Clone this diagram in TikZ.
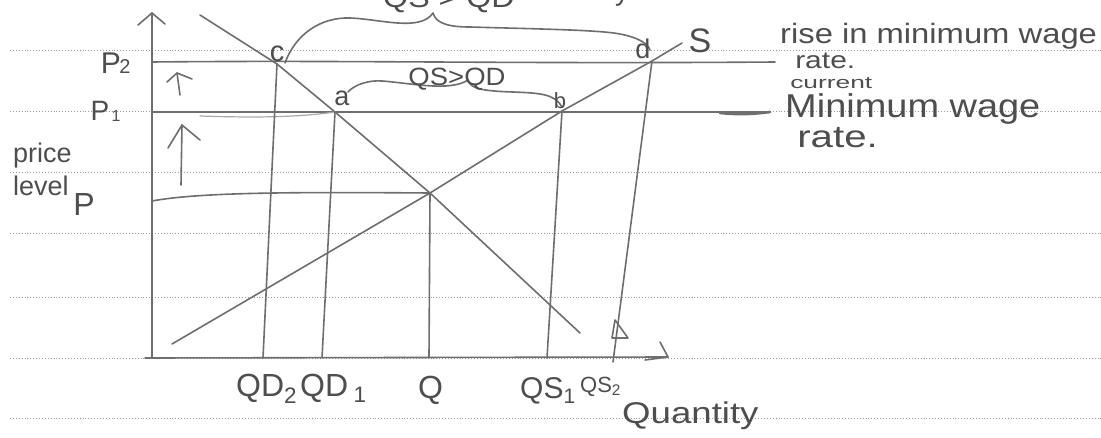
\documentclass[tikz,border=0pt]{standalone}
\usepackage{fontspec}
\setmainfont{Liberation Sans}
\definecolor{inkc}{HTML}{6E6E6E}
\definecolor{textc}{HTML}{4E4E4E}
\definecolor{rulec}{HTML}{9A9A9A}
\begin{document}
\begin{tikzpicture}[x=1pt,y=-1pt,
  ink/.style={draw=inkc, line width=1.6pt, line cap=round, line join=round},
  faint/.style={draw=inkc!60, line width=1.2pt, line cap=round},
  ruled/.style={draw=rulec, dotted, line width=0.9pt},
  hw/.style={text=textc, inner sep=0pt, font=\fontsize{#1}{#1}\selectfont},
  wide/.style={xscale=#1, transform shape}]
\useasboundingbox[fill=white] (0,0) rectangle (1101,437);
% ruled paper
\foreach \yy in {50,111,172,233,297,358,418}
  \draw[ruled] (10,\yy) -- (1101,\yy);
% key points
\coordinate (O) at (152,358);
\coordinate (Ytop) at (152,13);
\coordinate (yh1) at (138,25);
\coordinate (yh2) at (165,24);
\coordinate (Xst) at (145,358);
\coordinate (Xend) at (668,357);
\coordinate (xh1) at (660,342);
\coordinate (xh2) at (645,360);
\coordinate (c) at (277,64);
\coordinate (a) at (335,112);
\coordinate (E) at (430,193);
\coordinate (b) at (562,111);
\coordinate (d) at (652,61);
\coordinate (D0) at (200,15);
\coordinate (D1) at (580,333);
\coordinate (S0) at (172,344);
\coordinate (S1) at (682,43);
\coordinate (P2a) at (152,62);
\coordinate (P2b) at (775,62);
\coordinate (P1a) at (152,112);
\coordinate (P1b) at (770,112);
\coordinate (Pa) at (152,201);
\coordinate (qd2) at (263,358);
\coordinate (qd1) at (322,358);
\coordinate (q) at (429,357);
\coordinate (qs1) at (547,358);
\coordinate (qs2) at (613,362);
% axes
\draw[ink] (O) -- (Ytop);
\draw[ink] (yh1) -- (Ytop) -- (yh2);
\draw[ink] (Xst) -- (Xend);
\draw[ink] (xh1) -- (Xend) -- (xh2);
% demand and supply
\draw[ink] (D0) -- (c) -- (a) -- (E) -- (D1);
\draw[ink] (S0) -- (E) -- (b) -- (d) -- (S1);
% price lines
\draw[ink] (P2a) .. controls (350,60) and (500,64) .. (P2b);
\draw[ink] (P1a) -- (P1b);
\draw[faint] (200,116) .. controls (260,118) and (300,117) .. (a);
\draw[ink, line width=2.6pt] (720,113) .. controls (740,115) and (755,114) .. (P1b);
\draw[ink] (Pa) .. controls (200,192) and (300,192) .. (E);
% verticals
\draw[ink] (c) -- (qd2);
\draw[ink] (a) -- (qd1);
\draw[ink] (E) -- (q);
\draw[ink] (b) -- (qs1);
\draw[ink] (d) -- (qs2);
\draw[ink] (615,320) -- (628,338) -- (612,338) -- cycle;
% up arrows
\draw[ink] (180,95) -- (177,73);
\draw[ink] (167,82) -- (177,73) -- (192,79);
\draw[ink] (181,185) -- (182,125);
\draw[ink] (168,148) -- (182,125) -- (200,140);
% braces
\draw[ink] (285,63) .. controls (295,35) and (320,17) .. (350,18)
  .. controls (380,19) and (420,32) .. (433,13)
  .. controls (436,24) and (450,27) .. (470,27)
  .. controls (540,29) and (600,30) .. (620,34)
  .. controls (640,38) and (648,44) .. (650,50);
\draw[ink] (348,92) .. controls (355,84) and (370,80) .. (382,81)
  .. controls (410,83) and (450,92) .. (468,80)
  .. controls (470,88) and (480,91) .. (513,92)
  .. controls (540,93) and (555,94) .. (562,107);
% point letters
\node[hw=29, anchor=base] (lc) at (277,61) {c};
\node[hw=27, anchor=base] (la) at (342,105) {a};
\node[hw=22, anchor=base] (lb) at (560,108) {b};
\node[hw=27, anchor=base] (ld) at (643,58) {d};
\node[hw=34, anchor=base] (lS) at (700,52) {S};
% brace labels
\node[hw=28, anchor=base, wide=1.15] (top) at (449,7) {QS > QD};
\node[hw=28, anchor=base] (topy) at (622,0) {y};
\node[hw=25, anchor=base, wide=1.1] (mid) at (457,85) {QS>QD};
% y axis labels
\node[hw=30, anchor=base] (p2) at (111,73) {P};
\node[hw=20, anchor=base] (p2s) at (125,73) {2};
\node[hw=28, anchor=base] (p1) at (100,120) {P};
\node[hw=16, anchor=base] (p1s) at (116,121) {1};
\node[hw=27, anchor=base west] (price) at (13,162) {price};
\node[hw=27, anchor=base west] (level) at (13,195) {level};
\node[hw=32, anchor=base] (pp) at (84,215) {P};
% x axis labels
\node[hw=32, anchor=base west] (lqd2) at (236,396) {QD\textsubscript{2}};
\node[hw=32, anchor=base west] (lqd1) at (300,396) {QD\,\textsubscript{1}};
\node[hw=32, anchor=base west] (lq) at (418,398) {Q};
\node[hw=30, anchor=base west] (lqs1) at (520,398) {QS\textsubscript{1}};
\node[hw=22, anchor=base west] (lqs2) at (580,392) {QS\textsubscript{2}};
\node[hw=30, anchor=base west, wide=1.22] (lquan) at (622,423) {Quantity};
% notes
\node[hw=28, anchor=base west, wide=1.17] (n1) at (780,43) {rise in minimum wage};
\node[hw=24, anchor=base west, wide=1.25] (n2) at (795,68) {rate.};
\node[hw=17, anchor=base west, wide=1.55] (n3) at (790,88) {current};
\node[hw=33, anchor=base west, wide=1.15] (n4) at (785,117) {Minimum wage};
\node[hw=31, anchor=base west, wide=1.3] (n5) at (797,147) {rate.};
\end{tikzpicture}
\end{document}
